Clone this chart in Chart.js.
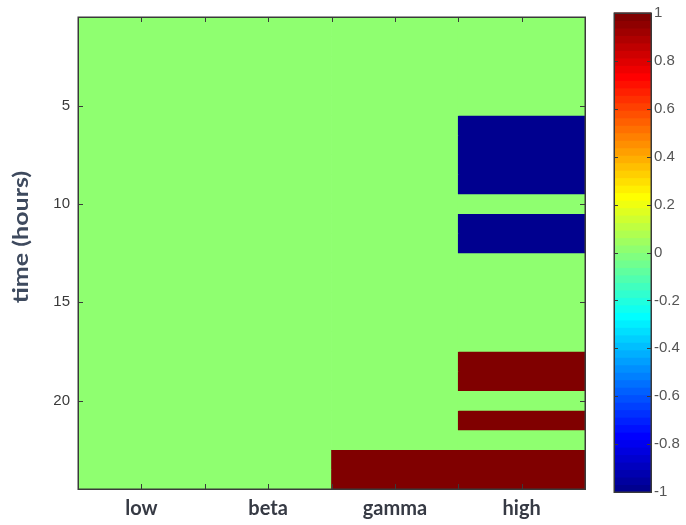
<!DOCTYPE html>
<html>
<head>
<meta charset="utf-8">
<script src="https://cdn.jsdelivr.net/npm/chart.js@4/dist/chart.umd.min.js"></script>
<style>
  html, body { margin: 0; padding: 0; background: #ffffff; }
  #wrap { position: relative; width: 686px; height: 525px; }
  #wrap canvas { position: absolute; left: 0; top: 0; }
</style>
</head>
<body>
<div id="wrap">
  <canvas id="heat" width="686" height="525"></canvas>
  <canvas id="bar" width="686" height="525"></canvas>
</div>
<script>
// Frequency bands (columns) and hourly rows
const columns = ['low', 'beta', 'gamma', 'high'];
const hours = [1, 2, 3, 4, 5, 6, 7, 8, 9, 10, 11, 12, 13, 14, 15, 16, 17, 18, 19, 20, 21, 22, 23, 24];

// Cell values per band, one entry per hour (-1 .. 1)
const lowValues   = [0, 0, 0, 0, 0, 0, 0, 0, 0, 0, 0, 0, 0, 0, 0, 0, 0, 0, 0, 0, 0, 0, 0, 0];
const betaValues  = [0, 0, 0, 0, 0, 0, 0, 0, 0, 0, 0, 0, 0, 0, 0, 0, 0, 0, 0, 0, 0, 0, 0, 0];
const gammaValues = [0, 0, 0, 0, 0, 0, 0, 0, 0, 0, 0, 0, 0, 0, 0, 0, 0, 0, 0, 0, 0, 0, 1, 1];
const highValues  = [0, 0, 0, 0, 0, -1, -1, -1, -1, 0, -1, -1, 0, 0, 0, 0, 0, 1, 1, 0, 1, 0, 1, 1];

// Axis ticks
const hourTicks = [5, 10, 15, 20];
const bandTickSteps = [0, 0.5, 1, 1.5, 2, 2.5, 3];
const colorbarTicks = [1, 0.8, 0.6, 0.4, 0.2, 0, -0.2, -0.4, -0.6, -0.8, -1];

const yTitle = 'time (hours)';

const valuesByColumn = [lowValues, betaValues, gammaValues, highValues];

// Jet colormap, 64 levels
function jet(t) {
  const c = x => Math.max(0, Math.min(1, x));
  const r = c(1.5 - Math.abs(4 * t - 3));
  const g = c(1.5 - Math.abs(4 * t - 2));
  const b = c(1.5 - Math.abs(4 * t - 1));
  return 'rgb(' + Math.round(r * 255) + ',' + Math.round(g * 255) + ',' + Math.round(b * 255) + ')';
}
function valueColor(v) {
  const k = Math.min(64, Math.floor((v + 1) / 2 * 64) + 1);
  return jet(k / 64);
}

const FRAME = '#3a3a3a';
const TICK_LEN = 5;

// Box outline plus inward ticks on all four sides
const heatFrame = {
  id: 'heatFrame',
  afterDatasetsDraw(chart) {
    const { ctx, chartArea: a } = chart;
    const xs = chart.scales.x, ys = chart.scales.y;
    ctx.save();
    ctx.strokeStyle = FRAME;
    ctx.lineWidth = 1;
    ctx.beginPath();
    hourTicks.forEach(v => {
      const y = Math.round(ys.getPixelForValue(v)) + 0.5;
      ctx.moveTo(a.left, y); ctx.lineTo(a.left + TICK_LEN, y);
      ctx.moveTo(a.right, y); ctx.lineTo(a.right - TICK_LEN, y);
    });
    bandTickSteps.forEach(v => {
      const x = Math.round(xs.getPixelForValue(v)) + 0.5;
      ctx.moveTo(x, a.bottom); ctx.lineTo(x, a.bottom - TICK_LEN);
      ctx.moveTo(x, a.top); ctx.lineTo(x, a.top + TICK_LEN);
    });
    ctx.stroke();
    ctx.lineWidth = 1.5;
    ctx.strokeRect(Math.round(a.left) + 0.25, Math.round(a.top) + 0.25,
                   Math.round(a.right - a.left), Math.round(a.bottom - a.top));
    ctx.restore();
  }
};

// Rotated, slightly widened y-axis title sitting left of the tick labels
const sideTitle = {
  id: 'sideTitle',
  afterDraw(chart) {
    const { ctx } = chart;
    ctx.save();
    ctx.translate(22, 237);
    ctx.rotate(-Math.PI / 2);
    ctx.scale(1.25, 1);
    ctx.font = 'bold 20px Lato';
    ctx.fillStyle = '#3e4a5e';
    ctx.textAlign = 'center';
    ctx.textBaseline = 'middle';
    ctx.fillText(yTitle, 0, 0);
    ctx.restore();
  }
};

new Chart(document.getElementById('heat'), {
  type: 'bar',
  data: {
    labels: columns,
    datasets: hours.map((h, i) => ({
      label: 'hour ' + h,
      data: columns.map(() => [h - 0.5, h + 0.5]),
      backgroundColor: valuesByColumn.map(vals => valueColor(vals[i])),
      borderWidth: 0,
      grouped: false,
      barPercentage: 1,
      categoryPercentage: 1
    }))
  },
  options: {
    responsive: false,
    animation: false,
    events: [],
    layout: { padding: { top: 13, right: 101, bottom: 0, left: 0 } },
    plugins: { legend: { display: false }, tooltip: { enabled: false } },
    scales: {
      x: {
        type: 'category',
        offset: true,
        grid: { display: false, drawTicks: false },
        border: { display: false },
        ticks: {
          padding: 8,
          color: '#363a44',
          font: { family: 'Lato', weight: 'bold', size: 20 }
        },
        afterFit(scale) { scale.height = 36; }
      },
      y: {
        type: 'linear',
        reverse: true,
        min: 0.5,
        max: 24.5,
        grid: { display: false, drawTicks: false },
        border: { display: false },
        afterBuildTicks(scale) { scale.ticks = hourTicks.map(v => ({ value: v })); },
        ticks: {
          padding: 8,
          color: '#3a3a3a',
          font: { family: 'Liberation Sans', size: 15 }
        },
        afterFit(scale) { scale.width = 78; }
      }
    }
  },
  plugins: [heatFrame, sideTitle]
});

// Colour bar: 64 jet bands on a -1..1 scale
const colorbarDraw = {
  id: 'colorbarDraw',
  afterDraw(chart) {
    const { ctx, chartArea: a } = chart;
    const ys = chart.scales.y;
    ctx.save();
    for (let k = 1; k <= 64; k++) {
      const y0 = ys.getPixelForValue(-1 + (k - 1) * 2 / 64);
      const y1 = ys.getPixelForValue(-1 + k * 2 / 64);
      ctx.fillStyle = jet(k / 64);
      ctx.fillRect(a.left, y1 - 0.5, a.right - a.left, y0 - y1 + 1);
    }
    ctx.strokeStyle = FRAME;
    ctx.lineWidth = 1;
    ctx.beginPath();
    colorbarTicks.forEach(v => {
      const y = Math.round(ys.getPixelForValue(v)) + 0.5;
      ctx.moveTo(a.left, y); ctx.lineTo(a.left + 4, y);
      ctx.moveTo(a.right, y); ctx.lineTo(a.right - 4, y);
    });
    ctx.stroke();
    ctx.lineWidth = 1.5;
    ctx.strokeRect(Math.round(a.left) + 0.25, Math.round(a.top) + 0.25,
                   Math.round(a.right - a.left), Math.round(a.bottom - a.top));
    ctx.restore();
  }
};

new Chart(document.getElementById('bar'), {
  type: 'bar',
  data: { labels: [''], datasets: [{ data: [], label: 'scale' }] },
  options: {
    responsive: false,
    animation: false,
    events: [],
    layout: { padding: { top: 13, right: 0, bottom: 33, left: 614 } },
    plugins: { legend: { display: false }, tooltip: { enabled: false } },
    scales: {
      x: { display: false },
      y: {
        type: 'linear',
        position: 'right',
        min: -1,
        max: 1,
        grid: { display: false, drawTicks: false },
        border: { display: false },
        afterBuildTicks(scale) { scale.ticks = colorbarTicks.map(v => ({ value: v })); },
        ticks: {
          padding: 3,
          color: '#555555',
          font: { family: 'Liberation Sans', size: 15 },
          callback: v => String(v)
        },
        afterFit(scale) { scale.width = 35; }
      }
    }
  },
  plugins: [colorbarDraw]
});
</script>
</body>
</html>
